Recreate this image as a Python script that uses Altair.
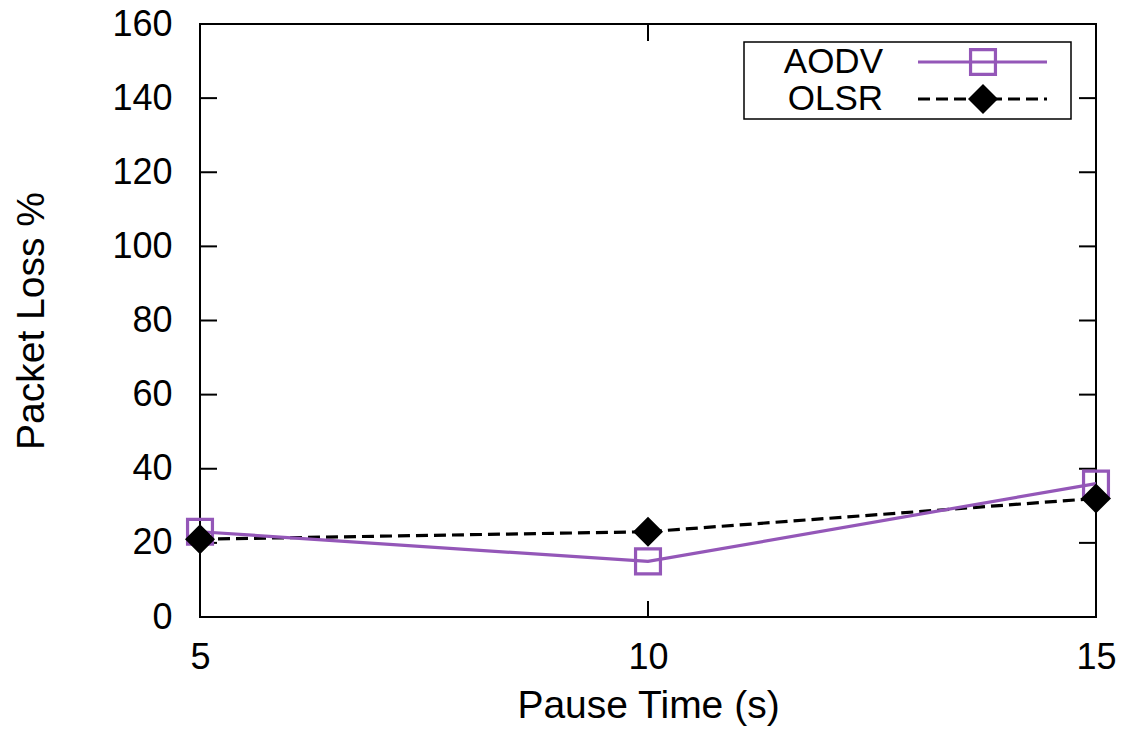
import altair as alt
import pandas as pd

# ---- data ----
pause_time = [5, 10, 15]
aodv_loss = [23, 15, 36]
olsr_loss = [21, 23, 32]
x_ticks = [5, 10, 15]
y_ticks = [0, 20, 40, 60, 80, 100, 120, 140, 160]
series_names = ["AODV", "OLSR"]

W, H = 896, 593
PURPLE = "#9457b8"
FONT = "Liberation Sans"
FS = 35

aodv = pd.DataFrame({"t": pause_time, "loss": aodv_loss})
olsr = pd.DataFrame({"t": pause_time, "loss": olsr_loss})
ytk = pd.DataFrame({"v": y_ticks})
xtk = pd.DataFrame({"v": x_ticks})
one = pd.DataFrame({"k": [0]})

xs = alt.Scale(domain=[5, 15], nice=False, zero=False)
ys = alt.Scale(domain=[0, 160], nice=False, zero=True)

x_axis = alt.Axis(
    values=x_ticks, ticks=False, tickSize=0, domain=False, grid=False,
    labelFont=FONT, labelFontSize=36, labelColor="black", labelPadding=51,
    labelBaseline="alphabetic", labelFlush=False,
    title="Pause Time (s)", titleFont=FONT, titleFontSize=39,
    titleFontWeight="normal", titleColor="black",
    titleX=W / 2, titleY=100, titleBaseline="alphabetic", titleAlign="center",
)
y_axis = alt.Axis(
    values=y_ticks, ticks=False, tickSize=0, domain=False, grid=False,
    labelFont=FONT, labelFontSize=36, labelColor="black", labelPadding=28,
    labelBaseline="middle", labelFlush=False,
    title="Packet Loss %", titleFont=FONT, titleFontSize=39,
    titleFontWeight="normal", titleColor="black",
    titleAngle=270, titleX=-157, titleY=H / 2, titleAlign="center",
    titleBaseline="alphabetic",
)

X = alt.X("t:Q", scale=xs, axis=x_axis)
Y = alt.Y("loss:Q", scale=ys, axis=y_axis)

# inward mirrored ticks
left_ticks = alt.Chart(ytk).mark_rule(color="black", strokeWidth=2).encode(
    y=alt.Y("v:Q", scale=ys, axis=y_axis), x=alt.value(0), x2=alt.value(17))
right_ticks = alt.Chart(ytk).mark_rule(color="black", strokeWidth=2).encode(
    y=alt.Y("v:Q", scale=ys, axis=y_axis), x=alt.value(W - 17), x2=alt.value(W))
bottom_ticks = alt.Chart(xtk).mark_rule(color="black", strokeWidth=2).encode(
    x=alt.X("v:Q", scale=xs, axis=x_axis), y=alt.value(H - 16), y2=alt.value(H))
top_ticks = alt.Chart(xtk).mark_rule(color="black", strokeWidth=2).encode(
    x=alt.X("v:Q", scale=xs, axis=x_axis), y=alt.value(0), y2=alt.value(17))

aodv_line = alt.Chart(aodv).mark_line(color=PURPLE, strokeWidth=3.2, clip=False).encode(x=X, y=Y)
aodv_pts = alt.Chart(aodv).mark_point(
    shape="square", filled=False, color=PURPLE, strokeWidth=3.2, size=620, opacity=1, clip=False
).encode(x=X, y=Y)
olsr_line = alt.Chart(olsr).mark_line(
    color="black", strokeWidth=3.2, strokeDash=[12, 6], clip=False).encode(x=X, y=Y)
olsr_pts = alt.Chart(olsr).mark_point(
    shape="diamond", filled=True, color="black", size=900, opacity=1, clip=False
).encode(x=X, y=Y)

# legend (gnuplot style: label left, sample right)
LX0, LX1, LY0, LY1 = 544, 871, 18, 95
row_y = [38, 75]
legend_box = alt.Chart(one).mark_rect(
    fill="white", stroke="black", strokeWidth=1.5).encode(
    x=alt.value(LX0), x2=alt.value(LX1), y=alt.value(LY0), y2=alt.value(LY1))
leg_text = [
    alt.Chart(one).mark_text(
        text=name, align="right", baseline="middle", font=FONT, fontSize=FS, color="black"
    ).encode(x=alt.value(683), y=alt.value(yy))
    for name, yy in zip(series_names, row_y)
]
leg_aodv_line = alt.Chart(one).mark_rule(color=PURPLE, strokeWidth=3.2).encode(
    x=alt.value(718), x2=alt.value(847), y=alt.value(row_y[0]))
leg_aodv_pt = alt.Chart(one).mark_point(
    shape="square", filled=False, color=PURPLE, strokeWidth=3.2, size=620, opacity=1
).encode(x=alt.value(783), y=alt.value(row_y[0]))
leg_olsr_line = alt.Chart(one).mark_rule(color="black", strokeWidth=3.2, strokeDash=[12, 6]).encode(
    x=alt.value(718), x2=alt.value(847), y=alt.value(row_y[1]))
leg_olsr_pt = alt.Chart(one).mark_point(
    shape="diamond", filled=True, color="black", size=900, opacity=1
).encode(x=alt.value(783), y=alt.value(row_y[1]))

chart = alt.layer(
    left_ticks, right_ticks, bottom_ticks, top_ticks,
    olsr_line, aodv_line, aodv_pts, olsr_pts,
    legend_box, *leg_text, leg_aodv_line, leg_aodv_pt, leg_olsr_line, leg_olsr_pt,
).properties(
    width=W, height=H,
    autosize=alt.AutoSizeParams(type="none"),
    padding={"left": 200, "top": 24, "right": 40, "bottom": 125},
    background="white",
).configure_view(
    stroke="black", strokeWidth=2,
)

chart.save("out.html", embed_options={"renderer": "svg", "actions": False})
